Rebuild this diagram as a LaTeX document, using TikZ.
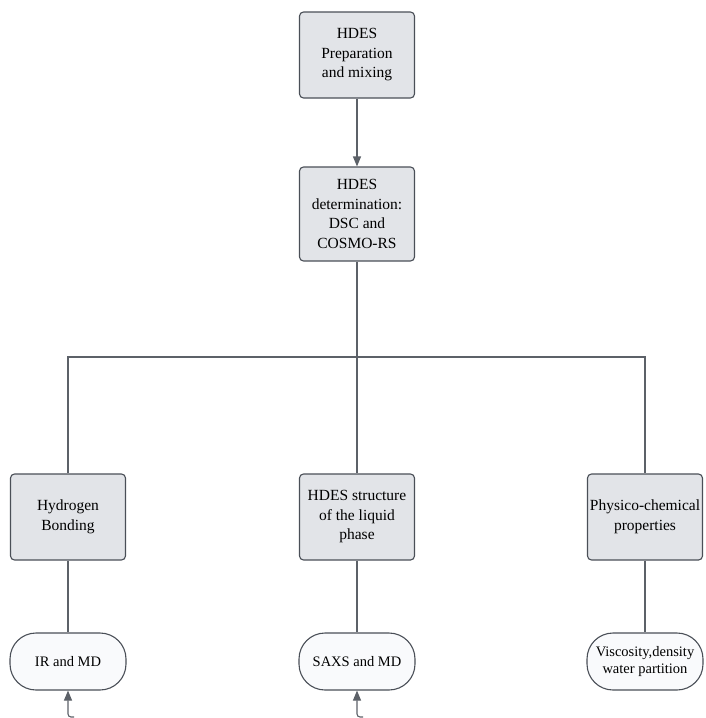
\documentclass[tikz,border=0pt]{standalone}
\usepackage{fontspec}
\setmainfont{Liberation Serif}
\usetikzlibrary{positioning, arrows.meta, calc}
\definecolor{hdesline}{RGB}{92, 97, 104}
\definecolor{hdesedge}{RGB}{74, 79, 87}
\definecolor{hdesfill}{RGB}{226, 228, 232}
\definecolor{hdesterm}{RGB}{249, 250, 252}
\tikzset{
  stagebox/.style={
    draw=hdesedge,
    line width=1.1pt,
    fill=hdesfill,
    rounded corners=4pt,
    minimum width=115pt,
    minimum height=86pt,
    inner sep=2pt,
    align=center,
    font=\fontsize{15.5}{19.5}\selectfont
  },
  methodbox/.style={
    draw=hdesedge,
    line width=1.1pt,
    fill=hdesterm,
    rounded corners=26pt,
    minimum width=116pt,
    minimum height=57pt,
    inner sep=2pt,
    align=center,
    font=\fontsize{14.5}{16.5}\selectfont
  },
  link/.style={
    draw=hdesline,
    line width=1.1pt
  },
  feed/.style={
    link,
    -{Triangle[length=10pt,width=8pt]},
    rounded corners=3pt
  }
}
\begin{document}
\begin{tikzpicture}[x=1pt, y=-1pt]
          \useasboundingbox (0,0) rectangle (705,718);
          \node[stagebox] (prep) at (357, 55) {HDES\\Preparation\\and mixing};
          \node[stagebox, minimum height=94pt] (detn) at (357, 214) {HDES\\determination:\\DSC and\\COSMO-RS};
          \node[stagebox] (hbond) at (68, 517) {Hydrogen\\Bonding};
          \node[stagebox] (struct) at (357, 517) {HDES structure\\of the liquid\\phase};
          \node[stagebox] (phys) at (645, 517) {Physico-chemical\\properties};
          \node[methodbox] (irmd) at (68, 661.5) {IR and MD};
          \node[methodbox] (saxs) at (357, 661.5) {SAXS and MD};
          \node[methodbox] (visc) at (645, 661.5) {Viscosity,density\\water partition};
          \coordinate (split) at (357, 357);
          \coordinate (irin) at (74, 717);
          \coordinate (saxsin) at (363, 717);

          \draw[link, -{Triangle[length=10pt,width=8pt]}] (prep) -- (detn);
          \draw[link] (detn) -- (split);
          \draw[link] (hbond.north) |- (split) -| (phys.north);
          \draw[link] (split) -- (struct);
          \draw[link] (hbond) -- (irmd);
          \draw[link] (struct) -- (saxs);
          \draw[link] (phys) -- (visc);
          \draw[feed] (irin) -| (irmd.south);
          \draw[feed] (saxsin) -| (saxs.south);
        \end{tikzpicture}
\end{document}
